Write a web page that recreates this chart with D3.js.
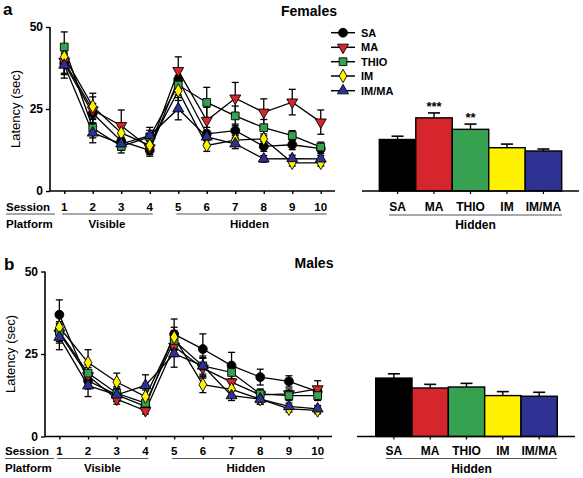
<!DOCTYPE html>
<html><head><meta charset="utf-8">
<script src="https://cdn.jsdelivr.net/npm/d3@7"></script>
<style>body{margin:0;background:#fff}svg{display:block;font-family:"Liberation Sans",Arial,sans-serif}</style>
</head><body>
<script>
// ---------- DATA ----------
const sessions = [1,2,3,4,5,6,7,8,9,10];
const groups = ["SA","MA","THIO","IM","IM/MA"];
const yTicks = [0,25,50];

// Females – latency per session
const femSA   = [38.9,23.7,15.2,12.4,34.0,17.4,18.4,13.6,14.1,12.9];
const femMA   = [39.5,24.7,19.9,13.1,36.7,21.5,28.3,24.0,27.1,21.0];
const femTHIO = [43.9,19.2,13.6,16.5,32.3,27.0,22.9,19.3,16.9,13.4];
const femIM   = [40.9,25.8,17.7,13.9,30.6,13.9,15.5,15.9,8.6,8.6];
const femIMMA = [38.4,17.7,14.4,16.9,25.1,16.5,14.4,9.8,9.9,9.8];
// Females – SEM
const femSAe   = [3,3,2,1.8,3,2,2,1.5,1.5,1.5];
const femMAe   = [4,4,4.8,2,4.2,4,4.8,4.1,3.9,3.7];
const femTHIOe = [4.6,3,2,2,3,4.6,3,2.5,1.5,1.5];
const femIMe   = [3,4,2,1.5,3,1.8,1.5,1.5,1,1];
const femIMMAe = [4,3,2,2.5,3.4,2,1.5,1,1,1];

// Males – latency per session
const malSA   = [36.9,16.9,12.6,9.1,31.0,26.5,21.5,18.0,16.7,13.6];
const malMA   = [31.3,18.4,11.3,7.8,27.3,20.7,16.5,12.6,12.9,14.4];
const malTHIO = [31.8,19.2,13.1,10.1,29.1,21.4,19.4,12.9,12.4,12.4];
const malIM   = [33.1,22.4,16.5,12.1,30.1,15.7,14.3,11.3,8.4,7.9];
const malIMMA = [30.1,15.4,12.6,15.5,25.1,21.4,12.4,11.3,9.1,8.4];
// Males – SEM
const malSAe   = [4.5,2.5,2,1.5,4.6,4.6,4,2.4,1.7,1.5];
const malMAe   = [3,2.5,1.5,1,3,3,2.5,1.5,1.5,2.5];
const malTHIOe = [3,2.5,2,1.5,3,3,2.5,1.5,1.5,1.5];
const malIMe   = [3,3.9,2.7,2,3,2.4,2,1.5,1,1];
const malIMMAe = [3.8,3.3,2,3.2,4.1,2.5,1.5,1.5,1,1];

// Hidden-platform means (bars)
const femBar  = [15.7,22.3,18.8,13.2,12.2];
const femBarE = [1.0,1.5,1.6,1.1,0.6];
const femStars = ["","***","**","",""];
const malBar  = [17.7,14.7,15.0,12.4,12.2];
const malBarE = [1.3,1.1,1.1,1.2,1.2];
const malStars = ["","","","",""];

// ---------- STYLE ----------
const colors = {"SA":"#000000","MA":"#d4262c","THIO":"#36a150","IM":"#fff200","IM/MA":"#2e3192"};
const symbols = {"SA":d3.symbolCircle,"MA":d3.symbolTriangle,"THIO":d3.symbolSquare,"IM":d3.symbolDiamond,"IM/MA":d3.symbolTriangle};
const symSize = {"SA":62,"MA":52,"THIO":60,"IM":52,"IM/MA":52};
const symRot = {"SA":0,"MA":180,"THIO":0,"IM":0,"IM/MA":0};

const svg = d3.select("body").append("svg").attr("width",583).attr("height",478);

function panel(cfg){
  const g = svg.append("g");
  const x = d3.scaleLinear().domain([0.5,10.5]).range([cfg.x0,cfg.x1]);
  const y = d3.scaleLinear().domain([0,50]).range([cfg.y0,cfg.y1]);

  // axes
  const ya = g.append("g").attr("transform",`translate(${cfg.x0},0)`)
    .call(d3.axisLeft(y).tickValues(yTicks).tickSize(4).tickPadding(3));
  const xa = g.append("g").attr("transform",`translate(0,${cfg.y0})`)
    .call(d3.axisBottom(x).tickValues(sessions).tickSize(3).tickFormat(""));
  [ya,xa].forEach(a=>{
    a.select(".domain").attr("stroke","#000").attr("stroke-width",1.6);
    a.selectAll(".tick line").attr("stroke","#000").attr("stroke-width",1.4);
  });
  ya.select(".domain").attr("d",`M0,${cfg.y0}V${cfg.y1}`);
  xa.select(".domain").attr("d",`M${cfg.x0},0H${cfg.x1}`);
  ya.selectAll(".tick text").attr("font-size",12).attr("font-weight","bold").attr("fill","#000")
    .attr("font-family","Liberation Sans, Arial, sans-serif");

  // axis title
  g.append("text").attr("transform",`translate(${cfg.ylx},${(cfg.y0+cfg.y1)/2}) rotate(-90)`)
    .attr("text-anchor","middle").attr("font-size",13).text("Latency (sec)");

  // session / platform labels
  const lbl = g.append("g").attr("font-weight","bold").attr("font-size",11.5);
  lbl.append("text").attr("x",cfg.sessX).attr("y",cfg.sessY).text("Session");
  lbl.selectAll("text.num").data(sessions).join("text").attr("class","num")
    .attr("x",d=>x(d)).attr("y",cfg.sessY).attr("text-anchor","middle").text(d=>d);
  g.append("line").attr("x1",cfg.sessX).attr("x2",cfg.sessX+49).attr("y1",cfg.ulY).attr("y2",cfg.ulY)
    .attr("stroke","#555").attr("stroke-width",1.2);
  g.append("line").attr("x1",x(1)-2).attr("x2",x(4)+3).attr("y1",cfg.ulY).attr("y2",cfg.ulY)
    .attr("stroke","#555").attr("stroke-width",1.2);
  g.append("line").attr("x1",x(5)-2).attr("x2",x(10)+6).attr("y1",cfg.ulY).attr("y2",cfg.ulY)
    .attr("stroke","#555").attr("stroke-width",1.2);
  lbl.append("text").attr("x",cfg.sessX).attr("y",cfg.platY).text("Platform");
  lbl.append("text").attr("x",(x(1)+x(4))/2).attr("y",cfg.platY).attr("text-anchor","middle").text("Visible");
  lbl.append("text").attr("x",(x(5)+x(10))/2).attr("y",cfg.platY).attr("text-anchor","middle").text("Hidden");

  // panel letter & title
  g.append("text").attr("x",cfg.letX).attr("y",cfg.letY).attr("font-size",17).attr("font-weight","bold").text(cfg.letter);
  g.append("text").attr("x",cfg.titleX).attr("y",cfg.titleY).attr("text-anchor","middle")
    .attr("font-size",14).attr("font-weight","bold").text(cfg.title);

  // lines
  const line = d3.line().x((d,i)=>x(sessions[i])).y(d=>y(d));
  groups.forEach(gn=>{
    g.append("path").datum(cfg.series[gn]).attr("d",line).attr("fill","none")
      .attr("stroke","#000").attr("stroke-width",1.3);
  });
  // error bars
  groups.forEach(gn=>{
    const vals = cfg.series[gn], errs = cfg.errors[gn];
    const eb = g.append("g").attr("stroke","#000").attr("stroke-width",1.3);
    vals.forEach((v,i)=>{
      const cx = x(sessions[i]);
      eb.append("line").attr("x1",cx).attr("x2",cx).attr("y1",y(v-errs[i])).attr("y2",y(v+errs[i]));
      eb.append("line").attr("x1",cx-3.5).attr("x2",cx+3.5).attr("y1",y(v+errs[i])).attr("y2",y(v+errs[i]));
      eb.append("line").attr("x1",cx-3.5).attr("x2",cx+3.5).attr("y1",y(v-errs[i])).attr("y2",y(v-errs[i]));
    });
  });
  // markers
  groups.forEach(gn=>{
    g.append("g").selectAll("path").data(cfg.series[gn]).join("path")
      .attr("d",d3.symbol().type(symbols[gn]).size(symSize[gn]))
      .attr("transform",(d,i)=>`translate(${x(sessions[i])},${y(d)}) rotate(${symRot[gn]})`)
      .attr("fill",colors[gn]).attr("stroke","#000").attr("stroke-width",0.9);
  });

  // ---- bar chart ----
  const bx = d3.scaleBand().domain(groups).range([cfg.bx0,cfg.bx1]).padding(0);
  const bg = g.append("g");
  bg.selectAll("rect").data(cfg.bars).join("rect")
    .attr("x",(d,i)=>bx(groups[i])).attr("width",bx.bandwidth())
    .attr("y",d=>y(d)).attr("height",d=>cfg.y0-y(d))
    .attr("fill",(d,i)=>colors[groups[i]]).attr("stroke","#000").attr("stroke-width",1.4);
  cfg.bars.forEach((d,i)=>{
    const cx = bx(groups[i])+bx.bandwidth()/2, top = y(d+cfg.barErr[i]);
    bg.append("line").attr("x1",cx).attr("x2",cx).attr("y1",y(d)).attr("y2",top).attr("stroke","#000").attr("stroke-width",1.4);
    bg.append("line").attr("x1",cx-6).attr("x2",cx+6).attr("y1",top).attr("y2",top).attr("stroke","#000").attr("stroke-width",1.6);
    if(cfg.stars[i]) bg.append("text").attr("x",cx).attr("y",top-2).attr("text-anchor","middle")
      .attr("font-size",13).attr("font-weight","bold").text(cfg.stars[i]);
  });
  const bax = bg.append("g").attr("transform",`translate(0,${cfg.y0})`)
    .call(d3.axisBottom(bx).tickSize(3).tickFormat(""));
  bax.select(".domain").attr("d",`M${cfg.ba0},0H${cfg.ba1}`).attr("stroke","#000").attr("stroke-width",1.6);
  bax.selectAll(".tick line").attr("stroke","#000").attr("stroke-width",1.2);
  const bl = bg.append("g").attr("font-size",12).attr("font-weight","bold");
  bl.selectAll("text").data(groups).join("text").attr("x",d=>bx(d)+bx.bandwidth()/2).attr("y",cfg.barLblY)
    .attr("text-anchor","middle").text(d=>d);
  bg.append("line").attr("x1",cfg.bul0).attr("x2",cfg.bul1).attr("y1",cfg.bulY).attr("y2",cfg.bulY)
    .attr("stroke","#555").attr("stroke-width",1.2);
  bg.append("text").attr("x",(cfg.bul0+cfg.bul1)/2).attr("y",cfg.bHidY).attr("text-anchor","middle")
    .attr("font-size",12).attr("font-weight","bold").text("Hidden");

  // legend
  if(cfg.legend){
    const lg = g.append("g");
    const rows = cfg.legend.rows;
    groups.forEach((gn,i)=>{
      const ly = rows[i];
      lg.append("line").attr("x1",cfg.legend.x0).attr("x2",cfg.legend.x0+24).attr("y1",ly).attr("y2",ly)
        .attr("stroke","#000").attr("stroke-width",1.5);
      lg.append("path").attr("d",d3.symbol().type(symbols[gn]).size(symSize[gn])())
        .attr("transform",`translate(${cfg.legend.x0+12},${ly}) rotate(${symRot[gn]})`)
        .attr("fill",colors[gn]).attr("stroke","#000").attr("stroke-width",0.9);
      lg.append("text").attr("x",cfg.legend.x0+30).attr("y",ly+4).attr("font-size",11).attr("font-weight","bold").text(gn);
    });
  }
}

panel({
  letter:"a", letX:3, letY:15, title:"Females", titleX:309, titleY:16,
  x0:50, x1:335, y0:191, y1:27, ylx:20,
  sessX:6, sessY:210.5, ulY:214, platY:227.5,
  series:{"SA":femSA,"MA":femMA,"THIO":femTHIO,"IM":femIM,"IM/MA":femIMMA},
  errors:{"SA":femSAe,"MA":femMAe,"THIO":femTHIOe,"IM":femIMe,"IM/MA":femIMMAe},
  bars:femBar, barErr:femBarE, stars:femStars,
  bx0:379.3, bx1:561.7, ba0:362, ba1:579, barLblY:210.5, bul0:389, bul1:562, bulY:215, bHidY:229,
  legend:{x0:331, rows:[32.7,47.3,61.7,76,90.7]}
});
panel({
  letter:"b", letX:4, letY:270, title:"Males", titleX:314, titleY:268,
  x0:45, x1:332, y0:436.5, y1:271.5, ylx:15,
  sessX:5, sessY:455, ulY:458.5, platY:472,
  series:{"SA":malSA,"MA":malMA,"THIO":malTHIO,"IM":malIM,"IM/MA":malIMMA},
  errors:{"SA":malSAe,"MA":malMAe,"THIO":malTHIOe,"IM":malIMe,"IM/MA":malIMMAe},
  bars:malBar, barErr:malBarE, stars:malStars,
  bx0:375.7, bx1:557.3, ba0:357, ba1:575, barLblY:454.5, bul0:386, bul1:557, bulY:458.5, bHidY:473,
  legend:null
});
</script>
</body></html>
